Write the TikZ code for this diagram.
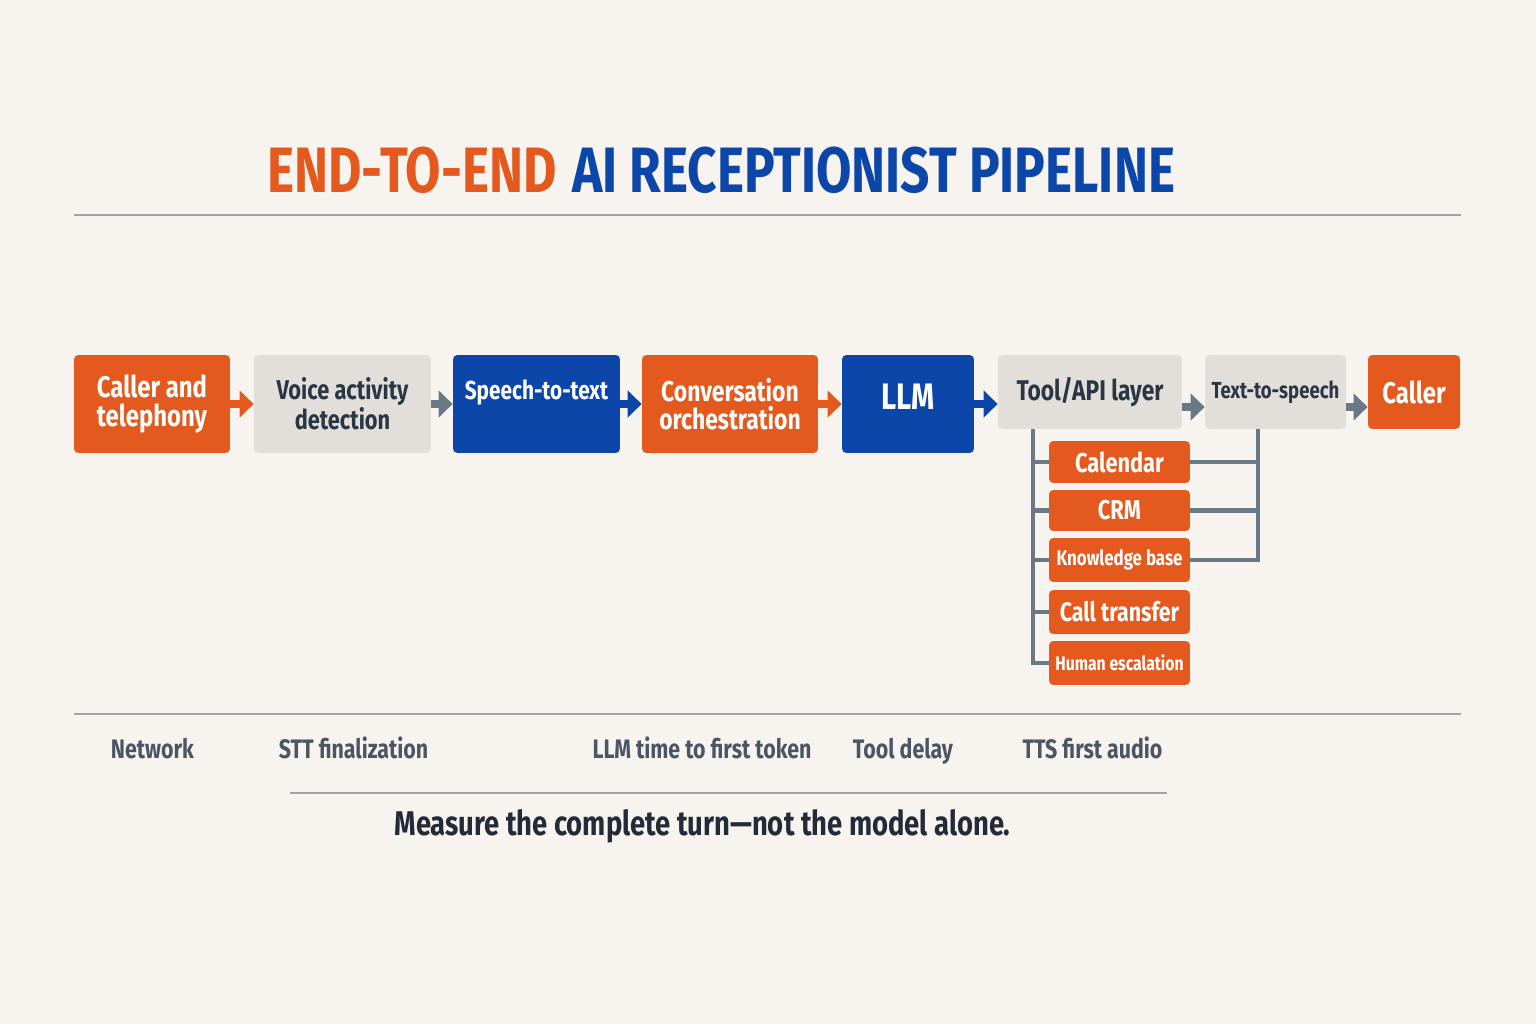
\documentclass[tikz,border=0pt]{standalone}
\usepackage{fontspec}
\setmainfont[FakeStretch=0.8]{Fira Sans}
\usepackage{tikz}
\usetikzlibrary{arrows.meta, positioning}

\definecolor{bg}{HTML}{F7F3EE}
\definecolor{orng}{HTML}{E45A1E}
\definecolor{blu}{HTML}{0B46A8}
\definecolor{lgray}{HTML}{E2DFDB}
\definecolor{ink}{HTML}{2B3645}
\definecolor{bus}{HTML}{6B7886}
\definecolor{rule}{HTML}{A3A3A3}
\definecolor{note}{HTML}{4B5563}

\begin{document}
\begin{tikzpicture}[x=0.02cm, y=-0.02cm,
    box/.style={rounded corners=2.5pt, align=center, inner sep=0pt,
        font=\fontsize{17}{16}\selectfont\bfseries},
    orangebox/.style={box, fill=orng, text=white},
    bluebox/.style={box, fill=blu, text=white},
    graybox/.style={box, fill=lgray, text=ink},
    subbox/.style={orangebox, minimum width=2.82cm},
    arr/.style={line width=5pt, -{Triangle[length=8pt, width=15pt]}},
    busline/.style={bus, line width=2.4pt},
    hrule/.style={rule, line width=1pt},
    step label/.style={note, anchor=base, font=\fontsize{15.2}{17}\selectfont\bfseries}]

    % background and page size
    \fill[bg] (0,0) rectangle (1536,1024);

    % title
    \node[anchor=base west, inner sep=0pt, text=orng,
        font=\fontsize{36.5}{40}\selectfont\bfseries] (titleA) at (267,193) {END-TO-END};
    \node[anchor=base west, inner sep=0pt, text=blu,
        font=\fontsize{36.5}{40}\selectfont\bfseries]
        (titleB) at ([xshift=0.3cm]titleA.base east) {AI RECEPTIONIST PIPELINE};
    \draw[hrule] (74,215) -- (1461,215);

    % main pipeline
    \node[orangebox, minimum width=3.12cm, minimum height=1.96cm] (call) at (152,404) {Caller and\\telephony};
    \node[graybox, minimum width=3.54cm, minimum height=1.96cm,
        font=\fontsize{15.5}{16}\selectfont\bfseries] (vad) at (342.5,404) {Voice activity\\detection};
    \node[bluebox, minimum width=3.34cm, minimum height=1.96cm,
        label={[yshift=0.22cm, text=white, font=\fontsize{14.8}{17}\selectfont\bfseries]center:Speech-to-text}] (stt) at (536.5,404) {};
    \node[orangebox, minimum width=3.52cm, minimum height=1.96cm,
        font=\fontsize{16.3}{16}\selectfont\bfseries] (conv) at (730,404) {Conversation\\orchestration};
    \node[bluebox, minimum width=2.64cm, minimum height=1.96cm,
        label={[yshift=0.14cm, text=white, font=\fontsize{21}{23}\selectfont\bfseries]center:LLM}] (llm) at (908,404) {};
    \node[graybox, minimum width=3.68cm, minimum height=1.48cm,
        font=\fontsize{16.2}{17}\selectfont\bfseries] (tool) at (1090,392) {Tool/API layer};
    \node[graybox, minimum width=2.82cm, minimum height=1.48cm,
        font=\fontsize{13.2}{15}\selectfont\bfseries] (tts) at (1275.5,392) {Text-to-speech};
    \node[orangebox, minimum width=1.84cm, minimum height=1.48cm] (caller) at (1414,392) {Caller};

    % arrows between stages
    \draw[arr, orng] (call) -- (vad);
    \draw[arr, bus] (vad) -- (stt);
    \draw[arr, blu] (stt) -- (conv);
    \draw[arr, orng] (conv) -- (llm);
    \draw[arr, blu] (llm.east) -- (llm.east -| tool.west);
    \draw[arr, bus] ([yshift=-0.3cm]tool.east) -- ([yshift=-0.3cm]tool.east -| tts.west);
    \draw[arr, bus] ([yshift=-0.3cm]tts.east) -- ([yshift=-0.3cm]tts.east -| caller.west);

    % tools
    \node[subbox, minimum height=0.84cm, font=\fontsize{15.5}{17}\selectfont\bfseries] (cal) at (1119.5,462) {Calendar};
    \node[subbox, minimum height=0.82cm, font=\fontsize{15.5}{17}\selectfont\bfseries] (crm) at (1119.5,510.5) {CRM};
    \node[subbox, minimum height=0.88cm, font=\fontsize{12}{14}\selectfont\bfseries] (kb) at (1119.5,560) {Knowledge base};
    \node[subbox, minimum height=0.88cm, font=\fontsize{15.2}{17}\selectfont\bfseries] (ct) at (1119.5,612) {Call transfer};
    \node[subbox, minimum height=0.88cm, font=\fontsize{11.2}{13}\selectfont\bfseries] (he) at (1119.5,663) {Human escalation};

    % buses
    \coordinate (busL) at ([xshift=0.7cm]tool.south west);
    \coordinate (busR) at ([xshift=1.06cm]tts.south west);
    \draw[busline] (busL) |- (he.west);
    \foreach \t in {cal, crm, kb, ct}
        \draw[busline] (busL |- \t.west) -- (\t.west);
    \draw[busline] (busR) |- (kb.east);
    \foreach \t in {cal, crm}
        \draw[busline] (\t.east) -- (busR |- \t.east);

    % latency budget
    \draw[hrule] (74,714) -- (1461,714);
    \node[step label] (net) at (152.5,758) {Network};
    \node[step label] (sttf) at (353.5,758) {STT finalization};
    \node[step label] (ttft) at (702,758) {LLM time to first token};
    \node[step label] (tdel) at (903,758) {Tool delay};
    \node[step label] (ttsa) at (1092.5,758) {TTS first audio};
    \draw[hrule] (290,793) -- (1167,793);

    \node[text=ink!80!black, font=\fontsize{19.5}{21}\selectfont\bfseries] (motto) at (702.5,826)
        {Measure the complete turn---not the model alone.};
\end{tikzpicture}
\end{document}
